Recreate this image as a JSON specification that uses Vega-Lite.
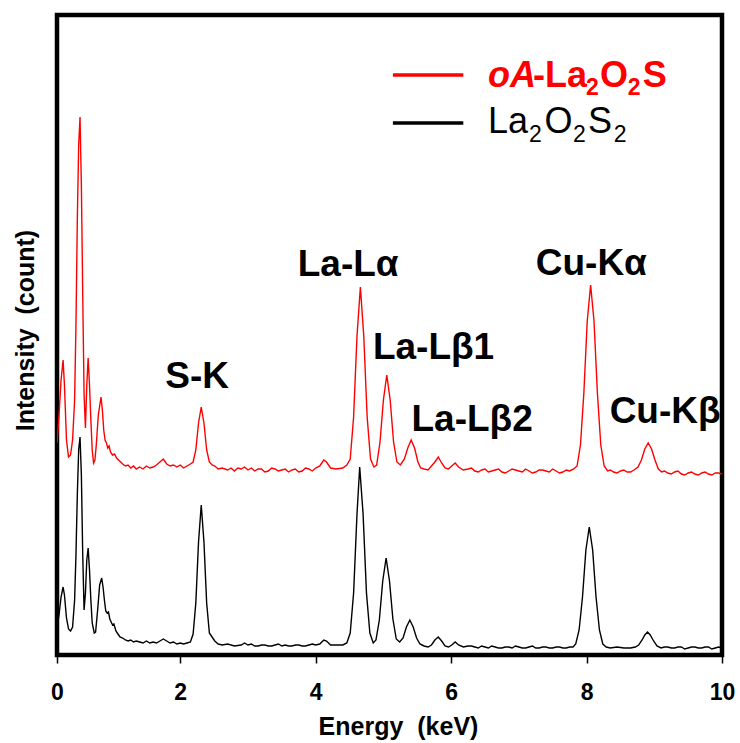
{
  "$schema": "https://vega.github.io/schema/vega-lite/v6.json",
  "width": 665,
  "height": 640,
  "autosize": {"type": "none"},
  "padding": {"left": 57, "top": 15, "right": 18, "bottom": 88},
  "background": "white",
  "config": {"view": {"stroke": "#000", "strokeWidth": 4.5}, "font": "Liberation Sans"},
  "datasets": {
    "spectra": [
      {"series":"La2O2S2","E":0.18,"I":28},{"series":"La2O2S2","E":0.21,"I":40},{"series":"La2O2S2","E":0.24,"I":58},{"series":"La2O2S2","E":0.27,"I":68},{"series":"La2O2S2","E":0.29,"I":60},{"series":"La2O2S2","E":0.32,"I":37},{"series":"La2O2S2","E":0.35,"I":26},{"series":"La2O2S2","E":0.38,"I":24},{"series":"La2O2S2","E":0.41,"I":28},{"series":"La2O2S2","E":0.44,"I":55},{"series":"La2O2S2","E":0.46,"I":100},{"series":"La2O2S2","E":0.48,"I":160},{"series":"La2O2S2","E":0.50,"I":205},{"series":"La2O2S2","E":0.52,"I":218},{"series":"La2O2S2","E":0.54,"I":180},{"series":"La2O2S2","E":0.56,"I":100},{"series":"La2O2S2","E":0.58,"I":45},{"series":"La2O2S2","E":0.60,"I":62},{"series":"La2O2S2","E":0.62,"I":95},{"series":"La2O2S2","E":0.64,"I":107},{"series":"La2O2S2","E":0.66,"I":85},{"series":"La2O2S2","E":0.68,"I":55},{"series":"La2O2S2","E":0.70,"I":32},{"series":"La2O2S2","E":0.73,"I":22},{"series":"La2O2S2","E":0.75,"I":23},{"series":"La2O2S2","E":0.78,"I":45},{"series":"La2O2S2","E":0.81,"I":70},{"series":"La2O2S2","E":0.84,"I":77},{"series":"La2O2S2","E":0.86,"I":68},{"series":"La2O2S2","E":0.88,"I":55},{"series":"La2O2S2","E":0.90,"I":44},{"series":"La2O2S2","E":0.92,"I":42},{"series":"La2O2S2","E":0.94,"I":43},{"series":"La2O2S2","E":0.96,"I":36},{"series":"La2O2S2","E":0.98,"I":33},{"series":"La2O2S2","E":1.00,"I":30},{"series":"La2O2S2","E":1.02,"I":31},{"series":"La2O2S2","E":1.05,"I":24},{"series":"La2O2S2","E":1.08,"I":21},{"series":"La2O2S2","E":1.11,"I":18},{"series":"La2O2S2","E":1.15,"I":17},{"series":"La2O2S2","E":1.19,"I":15},{"series":"La2O2S2","E":1.23,"I":14},{"series":"La2O2S2","E":1.27,"I":15},{"series":"La2O2S2","E":1.31,"I":13},{"series":"La2O2S2","E":1.35,"I":14},{"series":"La2O2S2","E":1.40,"I":13},{"series":"La2O2S2","E":1.45,"I":12},{"series":"La2O2S2","E":1.50,"I":14},{"series":"La2O2S2","E":1.55,"I":12},{"series":"La2O2S2","E":1.60,"I":13},{"series":"La2O2S2","E":1.65,"I":12},{"series":"La2O2S2","E":1.70,"I":14},{"series":"La2O2S2","E":1.75,"I":16},{"series":"La2O2S2","E":1.80,"I":14},{"series":"La2O2S2","E":1.85,"I":12},{"series":"La2O2S2","E":1.90,"I":13},{"series":"La2O2S2","E":1.95,"I":11},{"series":"La2O2S2","E":2.00,"I":12},{"series":"La2O2S2","E":2.05,"I":11},{"series":"La2O2S2","E":2.10,"I":12},{"series":"La2O2S2","E":2.15,"I":13},{"series":"La2O2S2","E":2.19,"I":21},{"series":"La2O2S2","E":2.23,"I":52},{"series":"La2O2S2","E":2.27,"I":113},{"series":"La2O2S2","E":2.31,"I":150},{"series":"La2O2S2","E":2.35,"I":113},{"series":"La2O2S2","E":2.39,"I":52},{"series":"La2O2S2","E":2.43,"I":22},{"series":"La2O2S2","E":2.47,"I":18},{"series":"La2O2S2","E":2.51,"I":14},{"series":"La2O2S2","E":2.56,"I":11},{"series":"La2O2S2","E":2.62,"I":10},{"series":"La2O2S2","E":2.70,"I":11},{"series":"La2O2S2","E":2.80,"I":9},{"series":"La2O2S2","E":2.90,"I":10},{"series":"La2O2S2","E":2.95,"I":12},{"series":"La2O2S2","E":3.00,"I":10},{"series":"La2O2S2","E":3.10,"I":9},{"series":"La2O2S2","E":3.20,"I":10},{"series":"La2O2S2","E":3.30,"I":9},{"series":"La2O2S2","E":3.40,"I":10},{"series":"La2O2S2","E":3.50,"I":9},{"series":"La2O2S2","E":3.60,"I":9},{"series":"La2O2S2","E":3.70,"I":10},{"series":"La2O2S2","E":3.80,"I":9},{"series":"La2O2S2","E":3.90,"I":10},{"series":"La2O2S2","E":4.00,"I":10},{"series":"La2O2S2","E":4.06,"I":11},{"series":"La2O2S2","E":4.12,"I":15},{"series":"La2O2S2","E":4.16,"I":14},{"series":"La2O2S2","E":4.22,"I":10},{"series":"La2O2S2","E":4.30,"I":10},{"series":"La2O2S2","E":4.40,"I":10},{"series":"La2O2S2","E":4.46,"I":12},{"series":"La2O2S2","E":4.51,"I":22},{"series":"La2O2S2","E":4.56,"I":62},{"series":"La2O2S2","E":4.61,"I":141},{"series":"La2O2S2","E":4.65,"I":188},{"series":"La2O2S2","E":4.70,"I":141},{"series":"La2O2S2","E":4.75,"I":62},{"series":"La2O2S2","E":4.80,"I":22},{"series":"La2O2S2","E":4.85,"I":12},{"series":"La2O2S2","E":4.89,"I":15},{"series":"La2O2S2","E":4.94,"I":35},{"series":"La2O2S2","E":4.99,"I":74},{"series":"La2O2S2","E":5.04,"I":97},{"series":"La2O2S2","E":5.09,"I":74},{"series":"La2O2S2","E":5.14,"I":36},{"series":"La2O2S2","E":5.19,"I":16},{"series":"La2O2S2","E":5.24,"I":13},{"series":"La2O2S2","E":5.29,"I":17},{"series":"La2O2S2","E":5.34,"I":28},{"series":"La2O2S2","E":5.39,"I":35},{"series":"La2O2S2","E":5.44,"I":28},{"series":"La2O2S2","E":5.49,"I":17},{"series":"La2O2S2","E":5.54,"I":11},{"series":"La2O2S2","E":5.60,"I":9},{"series":"La2O2S2","E":5.66,"I":8},{"series":"La2O2S2","E":5.71,"I":10},{"series":"La2O2S2","E":5.76,"I":15},{"series":"La2O2S2","E":5.81,"I":18},{"series":"La2O2S2","E":5.86,"I":14},{"series":"La2O2S2","E":5.91,"I":9},{"series":"La2O2S2","E":5.96,"I":8},{"series":"La2O2S2","E":6.01,"I":10},{"series":"La2O2S2","E":6.06,"I":13},{"series":"La2O2S2","E":6.11,"I":10},{"series":"La2O2S2","E":6.18,"I":8},{"series":"La2O2S2","E":6.25,"I":9},{"series":"La2O2S2","E":6.35,"I":8},{"series":"La2O2S2","E":6.45,"I":9},{"series":"La2O2S2","E":6.55,"I":7},{"series":"La2O2S2","E":6.65,"I":8},{"series":"La2O2S2","E":6.75,"I":7},{"series":"La2O2S2","E":6.85,"I":8},{"series":"La2O2S2","E":6.95,"I":9},{"series":"La2O2S2","E":7.05,"I":7},{"series":"La2O2S2","E":7.15,"I":8},{"series":"La2O2S2","E":7.25,"I":7},{"series":"La2O2S2","E":7.35,"I":8},{"series":"La2O2S2","E":7.45,"I":7},{"series":"La2O2S2","E":7.55,"I":8},{"series":"La2O2S2","E":7.65,"I":7},{"series":"La2O2S2","E":7.75,"I":8},{"series":"La2O2S2","E":7.80,"I":8},{"series":"La2O2S2","E":7.84,"I":11},{"series":"La2O2S2","E":7.89,"I":25},{"series":"La2O2S2","E":7.94,"I":58},{"series":"La2O2S2","E":7.99,"I":105},{"series":"La2O2S2","E":8.04,"I":128},{"series":"La2O2S2","E":8.09,"I":105},{"series":"La2O2S2","E":8.14,"I":58},{"series":"La2O2S2","E":8.19,"I":25},{"series":"La2O2S2","E":8.24,"I":11},{"series":"La2O2S2","E":8.29,"I":8},{"series":"La2O2S2","E":8.35,"I":7},{"series":"La2O2S2","E":8.45,"I":8},{"series":"La2O2S2","E":8.55,"I":7},{"series":"La2O2S2","E":8.65,"I":7},{"series":"La2O2S2","E":8.72,"I":8},{"series":"La2O2S2","E":8.77,"I":10},{"series":"La2O2S2","E":8.82,"I":15},{"series":"La2O2S2","E":8.86,"I":20},{"series":"La2O2S2","E":8.90,"I":23},{"series":"La2O2S2","E":8.94,"I":20},{"series":"La2O2S2","E":8.99,"I":14},{"series":"La2O2S2","E":9.04,"I":9},{"series":"La2O2S2","E":9.10,"I":7},{"series":"La2O2S2","E":9.20,"I":8},{"series":"La2O2S2","E":9.30,"I":7},{"series":"La2O2S2","E":9.40,"I":8},{"series":"La2O2S2","E":9.50,"I":7},{"series":"La2O2S2","E":9.60,"I":8},{"series":"La2O2S2","E":9.70,"I":7},{"series":"La2O2S2","E":9.80,"I":8},{"series":"La2O2S2","E":9.90,"I":7},{"series":"La2O2S2","E":10.0,"I":7},
      {"series":"La2O2S2","E":3.05,"I":11},{"series":"La2O2S2","E":3.15,"I":9},{"series":"La2O2S2","E":3.25,"I":10},{"series":"La2O2S2","E":3.35,"I":9},{"series":"La2O2S2","E":3.45,"I":11},{"series":"La2O2S2","E":3.55,"I":10},{"series":"La2O2S2","E":3.65,"I":9},{"series":"La2O2S2","E":3.75,"I":10},{"series":"La2O2S2","E":3.85,"I":9},{"series":"La2O2S2","E":3.95,"I":11},
      {"series":"La2O2S2","E":6.30,"I":9},{"series":"La2O2S2","E":6.40,"I":7},{"series":"La2O2S2","E":6.50,"I":8},{"series":"La2O2S2","E":6.60,"I":9},{"series":"La2O2S2","E":6.70,"I":7},{"series":"La2O2S2","E":6.80,"I":8},{"series":"La2O2S2","E":6.90,"I":7},{"series":"La2O2S2","E":7.00,"I":8},{"series":"La2O2S2","E":7.10,"I":7},{"series":"La2O2S2","E":7.20,"I":9},{"series":"La2O2S2","E":7.30,"I":7},{"series":"La2O2S2","E":7.40,"I":8},{"series":"La2O2S2","E":7.50,"I":7},{"series":"La2O2S2","E":7.60,"I":8},{"series":"La2O2S2","E":7.70,"I":7},
      {"series":"La2O2S2","E":9.15,"I":8},{"series":"La2O2S2","E":9.25,"I":7},{"series":"La2O2S2","E":9.35,"I":8},{"series":"La2O2S2","E":9.45,"I":6},{"series":"La2O2S2","E":9.55,"I":8},{"series":"La2O2S2","E":9.65,"I":7},{"series":"La2O2S2","E":9.75,"I":8},{"series":"La2O2S2","E":9.85,"I":6},{"series":"La2O2S2","E":9.95,"I":8},
      {"series":"oA-La2O2S","E":0.18,"I":212},{"series":"oA-La2O2S","E":0.21,"I":240},{"series":"oA-La2O2S","E":0.24,"I":275},{"series":"oA-La2O2S","E":0.27,"I":295},{"series":"oA-La2O2S","E":0.29,"I":270},{"series":"oA-La2O2S","E":0.32,"I":215},{"series":"oA-La2O2S","E":0.35,"I":198},{"series":"oA-La2O2S","E":0.38,"I":200},{"series":"oA-La2O2S","E":0.41,"I":215},{"series":"oA-La2O2S","E":0.44,"I":255},{"series":"oA-La2O2S","E":0.46,"I":330},{"series":"oA-La2O2S","E":0.48,"I":435},{"series":"oA-La2O2S","E":0.50,"I":510},{"series":"oA-La2O2S","E":0.52,"I":538},{"series":"oA-La2O2S","E":0.54,"I":470},{"series":"oA-La2O2S","E":0.56,"I":360},{"series":"oA-La2O2S","E":0.58,"I":260},{"series":"oA-La2O2S","E":0.60,"I":227},{"series":"oA-La2O2S","E":0.62,"I":270},{"series":"oA-La2O2S","E":0.64,"I":297},{"series":"oA-La2O2S","E":0.66,"I":270},{"series":"oA-La2O2S","E":0.68,"I":235},{"series":"oA-La2O2S","E":0.70,"I":205},{"series":"oA-La2O2S","E":0.72,"I":192},{"series":"oA-La2O2S","E":0.74,"I":195},{"series":"oA-La2O2S","E":0.76,"I":210},{"series":"oA-La2O2S","E":0.79,"I":240},{"series":"oA-La2O2S","E":0.83,"I":258},{"series":"oA-La2O2S","E":0.85,"I":245},{"series":"oA-La2O2S","E":0.87,"I":225},{"series":"oA-La2O2S","E":0.89,"I":215},{"series":"oA-La2O2S","E":0.91,"I":212},{"series":"oA-La2O2S","E":0.93,"I":207},{"series":"oA-La2O2S","E":0.95,"I":209},{"series":"oA-La2O2S","E":0.97,"I":203},{"series":"oA-La2O2S","E":1.00,"I":200},{"series":"oA-La2O2S","E":1.03,"I":201},{"series":"oA-La2O2S","E":1.06,"I":197},{"series":"oA-La2O2S","E":1.09,"I":195},{"series":"oA-La2O2S","E":1.12,"I":193},{"series":"oA-La2O2S","E":1.15,"I":191},{"series":"oA-La2O2S","E":1.19,"I":189},{"series":"oA-La2O2S","E":1.23,"I":190},{"series":"oA-La2O2S","E":1.27,"I":187},{"series":"oA-La2O2S","E":1.31,"I":189},{"series":"oA-La2O2S","E":1.35,"I":186},{"series":"oA-La2O2S","E":1.40,"I":188},{"series":"oA-La2O2S","E":1.45,"I":186},{"series":"oA-La2O2S","E":1.50,"I":189},{"series":"oA-La2O2S","E":1.55,"I":187},{"series":"oA-La2O2S","E":1.60,"I":188},{"series":"oA-La2O2S","E":1.65,"I":190},{"series":"oA-La2O2S","E":1.70,"I":193},{"series":"oA-La2O2S","E":1.75,"I":196},{"series":"oA-La2O2S","E":1.80,"I":191},{"series":"oA-La2O2S","E":1.85,"I":189},{"series":"oA-La2O2S","E":1.90,"I":190},{"series":"oA-La2O2S","E":1.95,"I":188},{"series":"oA-La2O2S","E":2.00,"I":190},{"series":"oA-La2O2S","E":2.05,"I":187},{"series":"oA-La2O2S","E":2.10,"I":189},{"series":"oA-La2O2S","E":2.15,"I":191},{"series":"oA-La2O2S","E":2.19,"I":193},{"series":"oA-La2O2S","E":2.23,"I":205},{"series":"oA-La2O2S","E":2.27,"I":232},{"series":"oA-La2O2S","E":2.31,"I":248},{"series":"oA-La2O2S","E":2.35,"I":232},{"series":"oA-La2O2S","E":2.39,"I":205},{"series":"oA-La2O2S","E":2.43,"I":193},{"series":"oA-La2O2S","E":2.47,"I":190},{"series":"oA-La2O2S","E":2.51,"I":189},{"series":"oA-La2O2S","E":2.56,"I":186},{"series":"oA-La2O2S","E":2.62,"I":187},{"series":"oA-La2O2S","E":2.70,"I":185},{"series":"oA-La2O2S","E":2.75,"I":187},{"series":"oA-La2O2S","E":2.80,"I":184},{"series":"oA-La2O2S","E":2.90,"I":186},{"series":"oA-La2O2S","E":2.95,"I":188},{"series":"oA-La2O2S","E":3.00,"I":185},{"series":"oA-La2O2S","E":3.10,"I":184},{"series":"oA-La2O2S","E":3.20,"I":186},{"series":"oA-La2O2S","E":3.30,"I":184},{"series":"oA-La2O2S","E":3.40,"I":186},{"series":"oA-La2O2S","E":3.50,"I":185},{"series":"oA-La2O2S","E":3.60,"I":183},{"series":"oA-La2O2S","E":3.70,"I":186},{"series":"oA-La2O2S","E":3.80,"I":184},{"series":"oA-La2O2S","E":3.90,"I":186},{"series":"oA-La2O2S","E":4.00,"I":187},{"series":"oA-La2O2S","E":4.06,"I":189},{"series":"oA-La2O2S","E":4.12,"I":195},{"series":"oA-La2O2S","E":4.16,"I":193},{"series":"oA-La2O2S","E":4.22,"I":187},{"series":"oA-La2O2S","E":4.30,"I":186},{"series":"oA-La2O2S","E":4.40,"I":187},{"series":"oA-La2O2S","E":4.46,"I":190},{"series":"oA-La2O2S","E":4.51,"I":196},{"series":"oA-La2O2S","E":4.56,"I":238},{"series":"oA-La2O2S","E":4.61,"I":319},{"series":"oA-La2O2S","E":4.66,"I":368},{"series":"oA-La2O2S","E":4.71,"I":319},{"series":"oA-La2O2S","E":4.76,"I":238},{"series":"oA-La2O2S","E":4.81,"I":196},{"series":"oA-La2O2S","E":4.86,"I":188},{"series":"oA-La2O2S","E":4.90,"I":190},{"series":"oA-La2O2S","E":4.95,"I":213},{"series":"oA-La2O2S","E":5.00,"I":255},{"series":"oA-La2O2S","E":5.05,"I":280},{"series":"oA-La2O2S","E":5.10,"I":255},{"series":"oA-La2O2S","E":5.15,"I":213},{"series":"oA-La2O2S","E":5.20,"I":193},{"series":"oA-La2O2S","E":5.25,"I":190},{"series":"oA-La2O2S","E":5.31,"I":196},{"series":"oA-La2O2S","E":5.36,"I":207},{"series":"oA-La2O2S","E":5.41,"I":215},{"series":"oA-La2O2S","E":5.46,"I":207},{"series":"oA-La2O2S","E":5.51,"I":193},{"series":"oA-La2O2S","E":5.55,"I":187},{"series":"oA-La2O2S","E":5.60,"I":186},{"series":"oA-La2O2S","E":5.66,"I":185},{"series":"oA-La2O2S","E":5.71,"I":189},{"series":"oA-La2O2S","E":5.76,"I":193},{"series":"oA-La2O2S","E":5.81,"I":198},{"series":"oA-La2O2S","E":5.86,"I":192},{"series":"oA-La2O2S","E":5.91,"I":187},{"series":"oA-La2O2S","E":5.96,"I":186},{"series":"oA-La2O2S","E":6.01,"I":189},{"series":"oA-La2O2S","E":6.06,"I":192},{"series":"oA-La2O2S","E":6.11,"I":188},{"series":"oA-La2O2S","E":6.18,"I":185},{"series":"oA-La2O2S","E":6.25,"I":186},{"series":"oA-La2O2S","E":6.35,"I":184},{"series":"oA-La2O2S","E":6.45,"I":185},{"series":"oA-La2O2S","E":6.55,"I":183},{"series":"oA-La2O2S","E":6.65,"I":185},{"series":"oA-La2O2S","E":6.75,"I":183},{"series":"oA-La2O2S","E":6.85,"I":184},{"series":"oA-La2O2S","E":6.95,"I":185},{"series":"oA-La2O2S","E":7.05,"I":183},{"series":"oA-La2O2S","E":7.15,"I":184},{"series":"oA-La2O2S","E":7.25,"I":183},{"series":"oA-La2O2S","E":7.35,"I":185},{"series":"oA-La2O2S","E":7.45,"I":183},{"series":"oA-La2O2S","E":7.55,"I":184},{"series":"oA-La2O2S","E":7.65,"I":183},{"series":"oA-La2O2S","E":7.75,"I":184},{"series":"oA-La2O2S","E":7.81,"I":186},{"series":"oA-La2O2S","E":7.86,"I":189},{"series":"oA-La2O2S","E":7.91,"I":210},{"series":"oA-La2O2S","E":7.96,"I":262},{"series":"oA-La2O2S","E":8.01,"I":334},{"series":"oA-La2O2S","E":8.06,"I":370},{"series":"oA-La2O2S","E":8.11,"I":334},{"series":"oA-La2O2S","E":8.16,"I":262},{"series":"oA-La2O2S","E":8.21,"I":210},{"series":"oA-La2O2S","E":8.26,"I":189},{"series":"oA-La2O2S","E":8.31,"I":184},{"series":"oA-La2O2S","E":8.40,"I":183},{"series":"oA-La2O2S","E":8.50,"I":184},{"series":"oA-La2O2S","E":8.60,"I":183},{"series":"oA-La2O2S","E":8.70,"I":185},{"series":"oA-La2O2S","E":8.76,"I":188},{"series":"oA-La2O2S","E":8.81,"I":195},{"series":"oA-La2O2S","E":8.86,"I":206},{"series":"oA-La2O2S","E":8.91,"I":212},{"series":"oA-La2O2S","E":8.96,"I":206},{"series":"oA-La2O2S","E":9.01,"I":195},{"series":"oA-La2O2S","E":9.06,"I":186},{"series":"oA-La2O2S","E":9.11,"I":183},{"series":"oA-La2O2S","E":9.20,"I":182},{"series":"oA-La2O2S","E":9.30,"I":183},{"series":"oA-La2O2S","E":9.40,"I":181},{"series":"oA-La2O2S","E":9.50,"I":182},{"series":"oA-La2O2S","E":9.60,"I":181},{"series":"oA-La2O2S","E":9.70,"I":182},{"series":"oA-La2O2S","E":9.80,"I":181},{"series":"oA-La2O2S","E":9.90,"I":182},{"series":"oA-La2O2S","E":10.0,"I":181},
      {"series":"oA-La2O2S","E":2.85,"I":187},{"series":"oA-La2O2S","E":3.05,"I":187},{"series":"oA-La2O2S","E":3.15,"I":186},{"series":"oA-La2O2S","E":3.25,"I":183},{"series":"oA-La2O2S","E":3.35,"I":187},{"series":"oA-La2O2S","E":3.45,"I":184},{"series":"oA-La2O2S","E":3.55,"I":186},{"series":"oA-La2O2S","E":3.65,"I":185},{"series":"oA-La2O2S","E":3.75,"I":183},{"series":"oA-La2O2S","E":3.85,"I":187},{"series":"oA-La2O2S","E":3.95,"I":184},
      {"series":"oA-La2O2S","E":6.30,"I":187},{"series":"oA-La2O2S","E":6.40,"I":183},{"series":"oA-La2O2S","E":6.50,"I":186},{"series":"oA-La2O2S","E":6.60,"I":184},{"series":"oA-La2O2S","E":6.70,"I":186},{"series":"oA-La2O2S","E":6.80,"I":182},{"series":"oA-La2O2S","E":6.90,"I":186},{"series":"oA-La2O2S","E":7.00,"I":184},{"series":"oA-La2O2S","E":7.10,"I":186},{"series":"oA-La2O2S","E":7.20,"I":182},{"series":"oA-La2O2S","E":7.30,"I":185},{"series":"oA-La2O2S","E":7.40,"I":184},{"series":"oA-La2O2S","E":7.50,"I":186},{"series":"oA-La2O2S","E":7.60,"I":182},{"series":"oA-La2O2S","E":7.70,"I":185},
      {"series":"oA-La2O2S","E":8.35,"I":185},{"series":"oA-La2O2S","E":8.45,"I":182},{"series":"oA-La2O2S","E":8.55,"I":185},{"series":"oA-La2O2S","E":8.65,"I":183},
      {"series":"oA-La2O2S","E":9.15,"I":184},{"series":"oA-La2O2S","E":9.25,"I":181},{"series":"oA-La2O2S","E":9.35,"I":184},{"series":"oA-La2O2S","E":9.45,"I":180},{"series":"oA-La2O2S","E":9.55,"I":183},{"series":"oA-La2O2S","E":9.65,"I":180},{"series":"oA-La2O2S","E":9.75,"I":183},{"series":"oA-La2O2S","E":9.85,"I":180},{"series":"oA-La2O2S","E":9.95,"I":182}
    ],
    "peaks": [
      {"label":"S-K","E":2.25,"I":267},
      {"label":"La-Lα","E":4.48,"I":379},
      {"label":"La-Lβ1","E":5.74,"I":296},
      {"label":"La-Lβ2","E":6.31,"I":224},
      {"label":"Cu-Kα","E":8.07,"I":380},
      {"label":"Cu-Kβ","E":9.16,"I":232}
    ],
    "legendLines": [
      {"series":"oA-La2O2S","E":5.14,"E2":6.18,"I":580},
      {"series":"La2O2S2","E":5.14,"E2":6.18,"I":532}
    ],
    "legendText": [
      {"part":"italic","label":"oA","E":6.545,"I":568},
      {"part":"redMain","label":"-La","E":7.21,"I":568},
      {"part":"redSub","label":"2","E":7.99,"I":560},
      {"part":"redMain","label":"O","E":8.20,"I":568},
      {"part":"redSub","label":"2","E":8.61,"I":560},
      {"part":"redMain","label":"S","E":8.83,"I":568},
      {"part":"blackMain","label":"La","E":6.545,"I":522},
      {"part":"blackSub","label":"2","E":7.15,"I":513},
      {"part":"blackMain","label":"O","E":7.38,"I":522},
      {"part":"blackSub","label":"2","E":7.80,"I":513},
      {"part":"blackMain","label":"S","E":8.02,"I":522},
      {"part":"blackSub","label":"2","E":8.40,"I":513}
    ]
  },
  "encoding": {
    "x": {
      "field": "E", "type": "quantitative",
      "scale": {"domain": [0.18, 10], "nice": false, "zero": false},
      "axis": {
        "title": "Energy\u00a0 (keV)",
        "values": [0.18, 2, 4, 6, 8, 10],
        "labelExpr": "datum.value < 1 ? '0' : datum.label",
        "domain": false, "grid": false,
        "tickSize": 8, "tickWidth": 1.5, "tickColor": "#000",
        "labelFont": "Liberation Sans", "labelFontSize": 23, "labelFontWeight": "bold", "labelColor": "#000",
        "labelPadding": 18, "labelFlush": false,
        "titleFont": "Liberation Sans", "titleFontSize": 25, "titleFontWeight": "bold", "titleColor": "#000",
        "titleX": 341, "titleY": 79, "titleBaseline": "alphabetic", "titleAlign": "center"
      }
    },
    "y": {
      "field": "I", "type": "quantitative",
      "scale": {"domain": [0, 640], "nice": false, "zero": false},
      "axis": {
        "title": "Intensity\u00a0 (count)",
        "labels": false, "ticks": false, "domain": false, "grid": false,
        "titleFont": "Liberation Sans", "titleFontSize": 25, "titleFontWeight": "bold", "titleColor": "#000",
        "titleAngle": -90, "titleX": -24, "titleY": 315, "titleAlign": "center", "titleBaseline": "alphabetic"
      }
    }
  },
  "layer": [
    {
      "data": {"name": "spectra"},
      "mark": {"type": "line", "strokeWidth": 1.4, "clip": true},
      "encoding": {
        "color": {"field": "series", "type": "nominal", "scale": {"domain": ["oA-La2O2S", "La2O2S2"], "range": ["#ff0000", "#000000"]}, "legend": null},
        "order": {"field": "E", "type": "quantitative"}
      }
    },
    {
      "data": {"name": "legendLines"},
      "mark": {"type": "rule", "strokeWidth": 3.5},
      "encoding": {
        "x2": {"field": "E2"},
        "color": {"field": "series", "type": "nominal", "scale": {"domain": ["oA-La2O2S", "La2O2S2"], "range": ["#ff0000", "#000000"]}, "legend": null}
      }
    },
    {
      "data": {"name": "peaks"},
      "mark": {"type": "text", "align": "center", "baseline": "alphabetic", "fontSize": 37, "fontWeight": "bold", "font": "Liberation Sans", "color": "#000"},
      "encoding": {"text": {"field": "label"}}
    },
    {
      "data": {"name": "legendText"},
      "transform": [{"filter": "datum.part == 'italic'"}],
      "mark": {"type": "text", "align": "left", "baseline": "alphabetic", "fontSize": 36, "fontWeight": "bold", "fontStyle": "italic", "font": "Liberation Sans", "color": "#ff0000"},
      "encoding": {"text": {"field": "label"}}
    },
    {
      "data": {"name": "legendText"},
      "transform": [{"filter": "datum.part == 'redMain'"}],
      "mark": {"type": "text", "align": "left", "baseline": "alphabetic", "fontSize": 36, "fontWeight": "bold", "font": "Liberation Sans", "color": "#ff0000"},
      "encoding": {"text": {"field": "label"}}
    },
    {
      "data": {"name": "legendText"},
      "transform": [{"filter": "datum.part == 'redSub'"}],
      "mark": {"type": "text", "align": "left", "baseline": "alphabetic", "fontSize": 23, "fontWeight": "bold", "font": "Liberation Sans", "color": "#ff0000"},
      "encoding": {"text": {"field": "label"}}
    },
    {
      "data": {"name": "legendText"},
      "transform": [{"filter": "datum.part == 'blackMain'"}],
      "mark": {"type": "text", "align": "left", "baseline": "alphabetic", "fontSize": 36, "fontWeight": "normal", "font": "Liberation Sans", "color": "#000"},
      "encoding": {"text": {"field": "label"}}
    },
    {
      "data": {"name": "legendText"},
      "transform": [{"filter": "datum.part == 'blackSub'"}],
      "mark": {"type": "text", "align": "left", "baseline": "alphabetic", "fontSize": 23, "fontWeight": "normal", "font": "Liberation Sans", "color": "#000"},
      "encoding": {"text": {"field": "label"}}
    }
  ]
}
